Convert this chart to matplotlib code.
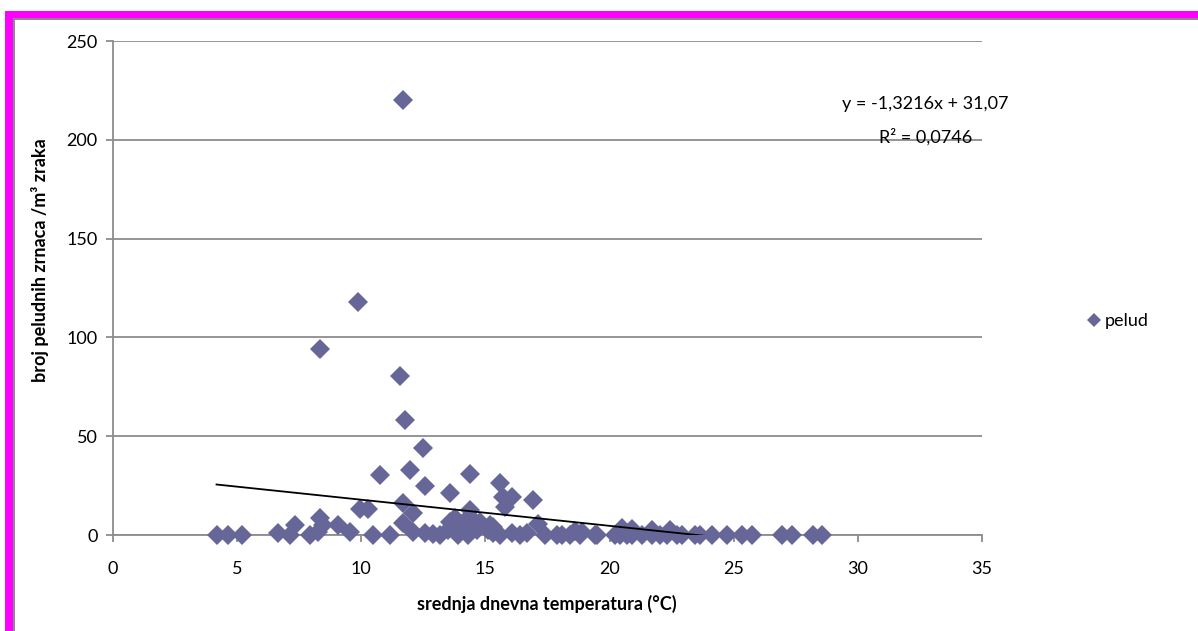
import matplotlib.pyplot as plt
from matplotlib.patches import Rectangle
import numpy as np

# mean daily temperature (°C) and pollen grains per m3 of air
temps = [
    11.67, 9.86, 8.35, 11.56, 11.77, 12.47, 11.97, 10.76, 14.38, 12.57,
    13.58, 15.59, 15.69, 16.09, 16.90, 15.79, 11.67, 9.96, 10.26, 12.07,
    14.38, 17.10,
    6.64, 7.34, 8.25, 8.35, 8.45, 9.05, 9.55, 11.67, 12.07, 12.57,
    12.87, 13.58, 13.48, 13.78, 14.08, 14.48, 14.68, 14.28, 14.80, 15.09,
    15.19, 15.29, 15.29, 16.09, 16.69, 20.52, 20.92, 21.72, 22.43, 18.60,
    18.90,
    4.17, 4.63, 5.18, 7.14, 7.95, 10.46, 11.16, 13.17, 13.88, 14.28,
    15.59, 16.39, 17.40, 17.90, 18.10, 18.40, 18.81, 19.41, 19.51, 20.21,
    20.41, 20.72, 20.92, 21.32, 21.72, 22.02, 22.33, 22.73, 22.93, 23.43,
    23.63, 24.14, 24.74, 25.34, 25.74, 26.95, 27.35, 28.21, 28.56,
]
pollen = [
    220, 118, 94, 80.5, 58, 44, 33, 30.5, 31, 25,
    21.5, 26.5, 19, 19, 17.5, 14, 16, 13, 13, 11,
    12.5, 5.5,
    1.2, 5, 1.7, 8.4, 5, 5.2, 1.3, 6.2, 1.7, 0.8,
    0.5, 6.7, 2.5, 8.4, 4.2, 7.6, 2.5, 8.4, 6.5, 2.5,
    5, 4.2, 0.8, 0.8, 0.8, 3.7, 3, 2.5, 2.5, 2,
    1.5,
    0, 0, 0, 0, 0, 0, 0, 0, 0, 0,
    0, 0, 0, 0, 0, 0, 0, 0, 0, 0,
    0, 0, 0, 0, 0, 0, 0, 0, 0, 0,
    0, 0, 0, 0, 0, 0, 0, 0, 0,
]

# linear trendline as reported on the chart
slope = -1.3216
intercept = 31.07
r2 = 0.0746

x_ticks = [0, 5, 10, 15, 20, 25, 30, 35]
y_ticks = [0, 50, 100, 150, 200, 250]

plt.rcParams['font.family'] = ['Lato', 'DejaVu Sans']

W, H = 1198, 631
fig = plt.figure(figsize=(W / 100, H / 100), dpi=100)
ax = fig.add_axes([113 / W, 1 - 535 / H, (982 - 113) / W, (535 - 41) / H])

marker_color = '#666699'
grid_color = '#8c8c8c'

ax.plot(temps, pollen, linestyle='none', marker='D', markersize=9.8,
        color=marker_color, markeredgewidth=0, clip_on=False,
        zorder=3, label='pelud')

tx = np.array([min(temps), max(temps)])
ax.plot(tx, slope * tx + intercept, color='black', linewidth=1.3, zorder=4)

ax.set_xlim(0, 35)
ax.set_ylim(0, 250)
ax.set_xticks(x_ticks)
ax.set_yticks(y_ticks)
ax.yaxis.grid(True, color=grid_color, linewidth=1.3)
ax.set_axisbelow(True)

for s in ['top', 'right']:
    ax.spines[s].set_visible(False)
for s in ['left', 'bottom']:
    ax.spines[s].set_color(grid_color)
    ax.spines[s].set_linewidth(1.3)

ax.tick_params(axis='both', colors=grid_color, labelcolor='black',
               labelsize=13, width=1.3)
ax.tick_params(axis='x', length=5, pad=14)
ax.tick_params(axis='y', length=5, pad=6)

fig.text(547 / W, 1 - 604 / H, 'srednja dnevna temperatura (°C)',
         ha='center', va='center', fontsize=13, fontweight='bold')
fig.text(40 / W, 1 - 260 / H, 'broj peludnih zrnaca /m³ zraka',
         ha='center', va='center', rotation=90, fontsize=13,
         fontweight='bold')

eq = f'y = {slope}x + {intercept}'.replace('.', ',')
fig.text(925 / W, 1 - 104 / H, eq, ha='center', va='center', fontsize=13)
fig.text(926 / W, 1 - 137 / H, f'R² = {r2}'.replace('.', ','),
         ha='center', va='center', fontsize=13)

fig.legend(loc='center left', bbox_to_anchor=(1078 / W, 1 - 321 / H),
           frameon=False, fontsize=13, markerscale=0.7,
           handlelength=0.8, handletextpad=0.2, borderpad=0)

# magenta frame with a thin grey inner edge
fig.add_artist(Rectangle((5 / W, 0), 8 / W, 1 - 11 / H,
                         transform=fig.transFigure, color='#ff00ff', lw=0))
fig.add_artist(Rectangle((5 / W, 1 - 18 / H), 1, 7 / H,
                         transform=fig.transFigure, color='#ff00ff', lw=0))
fig.add_artist(Rectangle((13 / W, 0), 2 / W, 1 - 18 / H,
                         transform=fig.transFigure, color='#8a8a8a', lw=0))
fig.add_artist(Rectangle((13 / W, 1 - 20 / H), 1, 2 / H,
                         transform=fig.transFigure, color='#8a8a8a', lw=0))

fig.savefig('out.png', dpi=100)
